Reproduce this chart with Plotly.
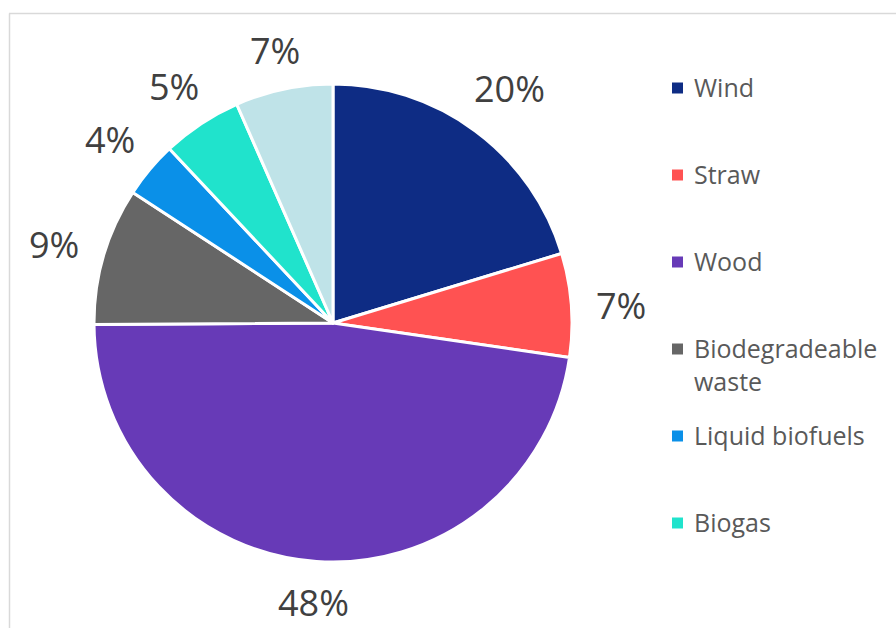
import math
import plotly.graph_objects as go

# Renewable energy sources and their share of production (%)
sources = ["Wind", "Straw", "Wood", "Biodegradeable<br>waste",
           "Liquid biofuels", "Biogas", "Other"]
shares = [20.3, 7.0, 47.6, 9.3, 3.8, 5.4, 6.6]
colors = ["#0E2C84", "#FF5252", "#673AB7", "#666666",
          "#0A90E8", "#20E3CC", "#BFE3E8"]
legend_count = 6  # number of sources listed in the key

W, H = 896, 628
CX, CY, R = 333, 323, 239          # pie centre / radius in pixels (top-left origin)
LABEL_GAP = 25                     # gap between pie edge and percentage labels
LABEL_FONT = 36
LEG_X, LEG_TOP, LEG_STEP = 672, 88, 87

def px(x):
    return x / W

def py(y):
    return 1 - y / H

fig = go.Figure(go.Pie(
    labels=sources,
    values=shares,
    sort=False,
    direction="clockwise",
    rotation=0,
    marker=dict(colors=colors, line=dict(color="white", width=3)),
    textinfo="none",
    hoverinfo="label+percent",
    showlegend=False,
    domain=dict(x=[px(CX - R), px(CX + R)], y=[py(CY + R), py(CY - R)]),
))

annotations = []
shapes = []

# percentage labels placed outside each slice, at its mid-angle
total = sum(shares)
cum = 0.0
for v in shares:
    ang = (cum + v / 2) / total * 2 * math.pi
    cum += v
    text = f"{round(100 * v / total)}%"
    hw, hh = 12 * len(text), 14
    s, c = math.sin(ang), math.cos(ang)
    d = R + LABEL_GAP + abs(s) * hw + abs(c) * hh
    ly = min(CY - d * c + 4, H - 26)   # keep the label box inside the page
    annotations.append(dict(
        x=px(CX + d * s), y=py(ly), xref="paper", yref="paper",
        text=text, showarrow=False, xanchor="center", yanchor="middle",
        font=dict(family="Open Sans", size=LABEL_FONT, color="#404040"),
    ))

# key: coloured squares with source names
for i in range(legend_count):
    yc = LEG_TOP + i * LEG_STEP
    shapes.append(dict(
        type="rect", xref="paper", yref="paper",
        x0=px(LEG_X), x1=px(LEG_X + 11), y0=py(yc - 5.5), y1=py(yc + 5.5),
        fillcolor=colors[i], line=dict(width=0),
    ))
    annotations.append(dict(
        x=px(LEG_X + 20), y=py(yc - 20), xref="paper", yref="paper",
        text=sources[i], showarrow=False, xanchor="left", yanchor="top",
        align="left",
        font=dict(family="Open Sans", size=25, color="#595959"),
    ))

# chart frame (top and left edges)
shapes.append(dict(type="line", xref="paper", yref="paper",
                   x0=px(9), x1=px(W + 10), y0=py(13.5), y1=py(13.5),
                   line=dict(color="#D9D9D9", width=1.5)))
shapes.append(dict(type="line", xref="paper", yref="paper",
                   x0=px(9.5), x1=px(9.5), y0=py(13.5), y1=py(H + 10),
                   line=dict(color="#D9D9D9", width=1.5)))

fig.update_layout(
    width=W, height=H,
    margin=dict(l=0, r=0, t=0, b=0),
    paper_bgcolor="white", plot_bgcolor="white",
    annotations=annotations, shapes=shapes,
)

fig.write_html("out.html")
